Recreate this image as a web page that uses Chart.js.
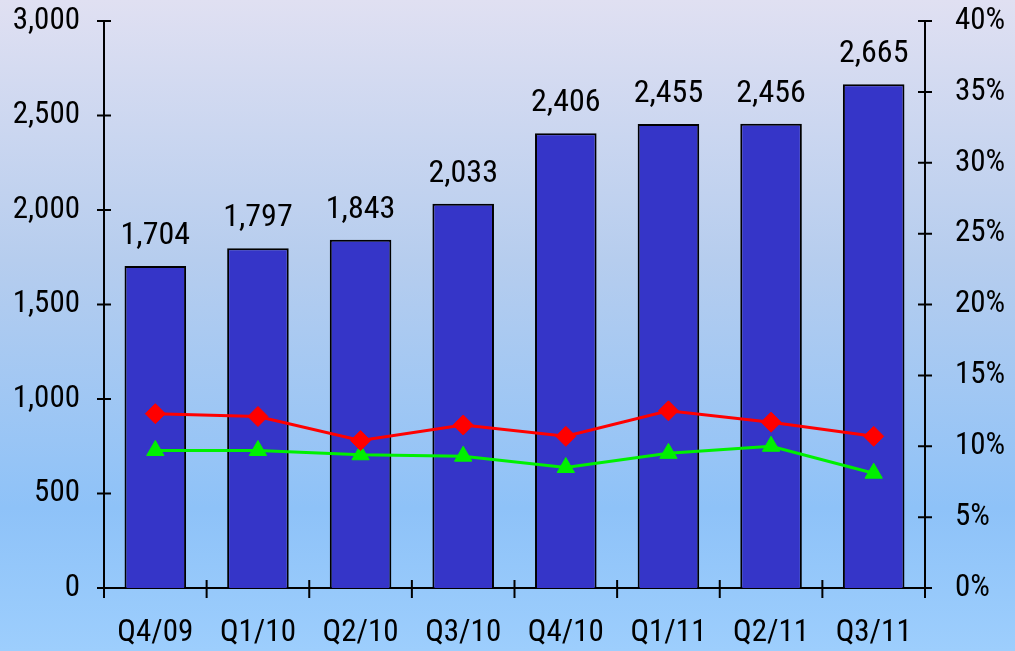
<!DOCTYPE html>
<html>
<head>
<meta charset="utf-8">
<script src="https://cdn.jsdelivr.net/npm/chart.js@4"></script>
<style>
  html, body { margin: 0; padding: 0; }
  body {
    width: 1015px; height: 651px; overflow: hidden;
    background: linear-gradient(to bottom, #e0e0f2 0%, #b6cdee 40%, #8ec2f8 78%, #9dcefd 100%);
  }
  canvas { display: block; }
</style>
</head>
<body>
<canvas id="chart" width="1015" height="651"></canvas>
<script>
// quarters shown on the x axis
const quarters = ['Q4/09', 'Q1/10', 'Q2/10', 'Q3/10', 'Q4/10', 'Q1/11', 'Q2/11', 'Q3/11'];
// bar values (left axis)
const volumes = [1704, 1797, 1843, 2033, 2406, 2455, 2456, 2665];
// line values in percent (right axis)
const redPct = [12.3, 12.1, 10.4, 11.5, 10.7, 12.5, 11.7, 10.7];
const greenPct = [9.7, 9.7, 9.4, 9.3, 8.5, 9.5, 10.0, 8.1];

const FONT = '"Roboto Condensed", "Liberation Sans", Arial, sans-serif';

// value labels above each bar
const barLabels = {
  id: 'barLabels',
  afterDatasetsDraw(chart) {
    const c = chart.ctx;
    const meta = chart.getDatasetMeta(0);
    c.save();
    c.font = '32px ' + FONT;
    c.fillStyle = '#000';
    c.textAlign = 'center';
    c.textBaseline = 'alphabetic';
    meta.data.forEach((bar, i) => {
      c.fillText(volumes[i].toLocaleString('en-US'), bar.x, bar.y - 22);
    });
    c.restore();
  }
};

// tick marks that cross the axis lines
const crossTicks = {
  id: 'crossTicks',
  afterDraw(chart) {
    const c = chart.ctx;
    const { x, y, y1 } = chart.scales;
    c.save();
    c.strokeStyle = '#000';
    c.lineWidth = 2;
    c.beginPath();
    y.ticks.forEach(t => {
      const p = y.getPixelForValue(t.value);
      c.moveTo(x.left - 7, p); c.lineTo(x.left + 7, p);
    });
    y1.ticks.forEach(t => {
      const p = y1.getPixelForValue(t.value);
      c.moveTo(x.right - 7, p); c.lineTo(x.right + 7, p);
    });
    const step = x.width / quarters.length;
    for (let i = 0; i <= quarters.length; i++) {
      const px = x.left + i * step;
      c.moveTo(px, y.bottom - 8); c.lineTo(px, y.bottom + 10);
    }
    c.stroke();
    c.restore();
  }
};

// fixed axis sizes so the plot area sits where the original does
const fitVertical = w => s => {
  s.width = w;
  s.paddingTop = 21;
  s.paddingBottom = 0;
};

new Chart(document.getElementById('chart'), {
  data: {
    labels: quarters,
    datasets: [
      {
        type: 'bar',
        data: volumes,
        yAxisID: 'y',
        backgroundColor: '#3535c8',
        borderColor: '#000',
        borderWidth: 2,
        barPercentage: 0.6,
        categoryPercentage: 1,
        order: 2
      },
      {
        type: 'line',
        data: redPct,
        yAxisID: 'y1',
        borderColor: '#ff0000',
        backgroundColor: '#ff0000',
        borderWidth: 3,
        pointStyle: 'rectRot',
        pointRadius: 10,
        pointBorderWidth: 1,
        order: 0
      },
      {
        type: 'line',
        data: greenPct,
        yAxisID: 'y1',
        borderColor: '#00f000',
        backgroundColor: '#00f000',
        borderWidth: 3,
        pointStyle: 'triangle',
        pointRadius: 10,
        pointBorderWidth: 1,
        order: 1
      }
    ]
  },
  options: {
    responsive: false,
    animation: false,
    layout: { padding: 0 },
    plugins: { legend: { display: false }, tooltip: { enabled: false } },
    scales: {
      x: {
        offset: true,
        grid: { display: false, drawTicks: false },
        border: { display: true, color: '#000', width: 2 },
        ticks: { color: '#000', font: { family: FONT, size: 31 }, padding: 27, maxRotation: 0 },
        afterFit: s => { s.height = 63; }
      },
      y: {
        position: 'left',
        min: 0, max: 3000,
        grid: { display: false, drawTicks: false },
        border: { display: true, color: '#000', width: 2 },
        ticks: {
          stepSize: 500, color: '#000', padding: 24,
          font: { family: FONT, size: 31 },
          callback: v => v.toLocaleString('en-US')
        },
        afterFit: fitVertical(104)
      },
      y1: {
        position: 'right',
        min: 0, max: 40,
        grid: { display: false, drawTicks: false },
        border: { display: true, color: '#000', width: 2 },
        ticks: {
          stepSize: 5, color: '#000', padding: 30,
          font: { family: FONT, size: 31 },
          callback: v => v + '%'
        },
        afterFit: fitVertical(90)
      }
    }
  },
  plugins: [barLabels, crossTicks]
});
</script>
</body>
</html>
